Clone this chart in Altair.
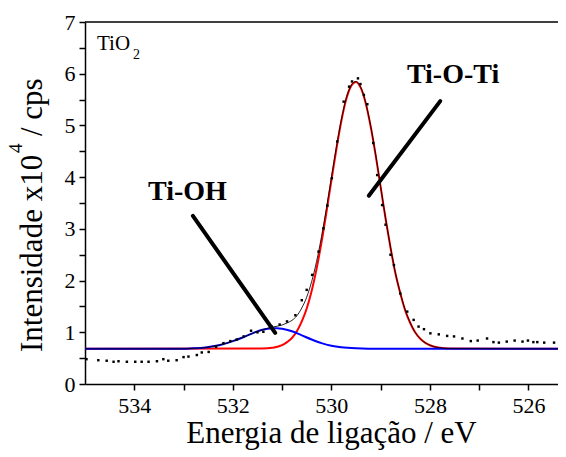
import altair as alt
import pandas as pd

# ---------------- data ----------------
# measured spectrum (dots)
DATA_X = [534.97, 534.73, 534.56, 534.42, 534.32, 534.15, 533.98, 533.85, 533.71, 533.54,
          533.41, 533.31, 533.14, 533.00, 532.90, 532.73, 532.63, 532.49, 532.34, 532.19,
          532.05, 531.92, 531.78, 531.63, 531.50, 531.38, 531.21, 531.05, 530.90, 530.73,
          530.60, 530.50, 530.39, 530.26, 530.16, 530.08, 529.99, 529.88, 529.75, 529.64,
          529.58, 529.46, 529.41, 529.34, 529.27, 529.15, 529.07, 528.97, 528.90, 528.80,
          528.73, 528.60, 528.46, 528.33, 528.23, 528.12, 527.99, 527.82, 527.65, 527.51,
          527.34, 527.17, 527.03, 526.84, 526.71, 526.60, 526.44, 526.28, 526.12, 526.01,
          525.90, 525.82, 525.68, 525.48]
DATA_Y = [0.48, 0.46, 0.45, 0.43, 0.44, 0.43, 0.43, 0.43, 0.43, 0.44,
          0.48, 0.45, 0.46, 0.52, 0.53, 0.56, 0.61, 0.62, 0.72, 0.79,
          0.83, 0.86, 0.92, 1.03, 1.00, 1.01, 1.11, 1.15, 1.21, 1.33,
          1.62, 1.82, 2.11, 2.56, 3.01, 3.45, 3.98, 4.69, 5.46, 5.75,
          5.85, 5.91, 5.80, 5.59, 5.41, 4.66, 4.04, 3.46, 3.08, 2.50,
          2.30, 1.75, 1.40, 1.24, 1.11, 1.06, 0.98, 0.96, 0.93, 0.92,
          0.88, 0.83, 0.84, 0.88, 0.81, 0.80, 0.82, 0.84, 0.82, 0.84,
          0.81, 0.81, 0.80, 0.80]

# Ti-O-Ti component (red)
RED_X = [535.0, 531.4, 531.2, 531.0, 530.9, 530.8, 530.7, 530.6, 530.5, 530.4,
         530.3, 530.2, 530.1, 530.0, 529.9, 529.8, 529.7, 529.6, 529.5, 529.4,
         529.3, 529.2, 529.1, 529.0, 528.9, 528.8, 528.7, 528.6, 528.5, 528.4,
         528.3, 528.2, 528.1, 528.0, 527.8, 527.6, 525.4]
RED_Y = [0.68, 0.685, 0.70, 0.75, 0.81, 0.89, 1.02, 1.21, 1.46, 1.80,
         2.23, 2.74, 3.32, 3.93, 4.53, 5.07, 5.50, 5.76, 5.84, 5.72,
         5.42, 4.97, 4.42, 3.81, 3.20, 2.64, 2.14, 1.75, 1.42, 1.18,
         1.00, 0.88, 0.80, 0.75, 0.70, 0.685, 0.68]

# Ti-OH component (blue)
BLUE_X = [535.0, 533.0, 532.8, 532.6, 532.4, 532.2, 532.0, 531.8, 531.6, 531.4,
          531.2, 531.1, 531.0, 530.8, 530.6, 530.4, 530.2, 530.0, 529.8, 529.5,
          529.0, 525.4]
BLUE_Y = [0.68, 0.68, 0.69, 0.70, 0.73, 0.77, 0.83, 0.90, 0.98, 1.05,
          1.08, 1.08, 1.07, 1.02, 0.94, 0.86, 0.79, 0.74, 0.71, 0.69,
          0.68, 0.68]

# envelope (black)
ENV_X = [535.0, 533.0, 532.8, 532.6, 532.4, 532.2, 532.0, 531.8, 531.6, 531.4,
         531.2, 531.0, 530.9, 530.8, 530.7, 530.6, 530.5, 530.4, 530.3, 530.2,
         530.1, 530.0, 529.9, 529.8, 529.7, 529.6, 529.5, 529.4, 529.3, 529.2,
         529.1, 529.0, 528.9, 528.8, 528.7, 528.6, 528.5, 528.4, 528.3, 528.2,
         528.1, 528.0, 527.8, 527.6, 525.4]
ENV_Y = [0.68, 0.68, 0.69, 0.70, 0.73, 0.77, 0.83, 0.90, 0.98, 1.05,
         1.10, 1.14, 1.18, 1.23, 1.32, 1.47, 1.68, 1.98, 2.37, 2.85,
         3.40, 3.99, 4.57, 5.10, 5.52, 5.77, 5.85, 5.73, 5.43, 4.98,
         4.43, 3.82, 3.21, 2.65, 2.15, 1.76, 1.43, 1.19, 1.00, 0.88,
         0.80, 0.75, 0.70, 0.685, 0.68]

X_TICKS = [526, 527, 528, 529, 530, 531, 532, 533, 534]
Y_TICKS = [0, 0.5, 1, 1.5, 2, 2.5, 3, 3.5, 4, 4.5, 5, 5.5, 6, 6.5, 7]
X_DOMAIN = [525.4, 535]
Y_DOMAIN = [0, 7]

X_TITLE = "Energia de ligação / eV"
Y_TITLE_MAIN = "Intensidade x10"
Y_TITLE_SUP = "4"
Y_TITLE_TAIL = "/ cps"
SAMPLE_MAIN = "TiO"
SAMPLE_SUB = "2"

PEAK_LABELS = ["Ti-OH", "Ti-O-Ti"]
PEAK_LABEL_X = [532.92, 527.53]
PEAK_LABEL_Y = [3.56, 5.82]
POINTER_X = [532.81, 527.79]
POINTER_Y = [3.25, 5.47]
POINTER_X2 = [531.14, 529.24]
POINTER_Y2 = [0.99, 3.64]

FONT = "Liberation Serif"

# ---------------- chart ----------------
W, H = 473, 362

xscale = alt.Scale(domain=X_DOMAIN, reverse=True, nice=False, zero=False)
yscale = alt.Scale(domain=Y_DOMAIN, nice=False, zero=True)

xaxis = alt.Axis(
    values=X_TICKS,
    labelExpr="datum.value % 2 == 0 ? format(datum.value, 'd') : ''",
    title=X_TITLE, titleFontSize=31, titleFont=FONT, titleFontWeight="normal",
    titleColor="black", titleBaseline="alphabetic", titleY=58, titleX=246,
    labelFont=FONT, labelFontSize=22, labelColor="black", labelPadding=5,
    tickSize=6, tickWidth=1.5, tickColor="black",
    domainColor="black", domainWidth=1.5, grid=False, labelFlush=False,
    labelOverlap=False,
)
yaxis = alt.Axis(
    values=Y_TICKS,
    labelExpr="datum.value % 1 == 0 ? format(datum.value, 'd') : ''",
    title=None,
    labelFont=FONT, labelFontSize=22, labelColor="black", labelPadding=4,
    tickSize=6, tickWidth=1.5, tickColor="black",
    domainColor="black", domainWidth=1.5, grid=False, labelFlush=False,
    labelOverlap=False,
)

X = alt.X("x:Q", scale=xscale, axis=xaxis)
Y = alt.Y("y:Q", scale=yscale, axis=yaxis)

red = alt.Chart(pd.DataFrame({"x": RED_X, "y": RED_Y})).mark_line(
    color="#ff0000", strokeWidth=2, interpolate="monotone").encode(x=X, y=Y)
blue = alt.Chart(pd.DataFrame({"x": BLUE_X, "y": BLUE_Y})).mark_line(
    color="#0000ff", strokeWidth=2, interpolate="monotone").encode(x=X, y=Y)
env = alt.Chart(pd.DataFrame({"x": ENV_X, "y": ENV_Y})).mark_line(
    color="black", strokeWidth=1, opacity=0.85, interpolate="monotone").encode(x=X, y=Y)
dots = alt.Chart(pd.DataFrame({"x": DATA_X, "y": DATA_Y})).mark_square(
    color="black", size=6, opacity=1).encode(x=X, y=Y)

pointers = alt.Chart(pd.DataFrame({
    "x": POINTER_X, "y": POINTER_Y, "x2": POINTER_X2, "y2": POINTER_Y2})).mark_rule(
    color="black", strokeWidth=4, strokeCap="round").encode(
    x=X, y=Y, x2="x2:Q", y2="y2:Q")

labels = alt.Chart(pd.DataFrame({
    "x": PEAK_LABEL_X, "y": PEAK_LABEL_Y, "t": PEAK_LABELS})).mark_text(
    font=FONT, fontSize=28, fontWeight="bold", color="black",
    align="center", baseline="alphabetic").encode(x=X, y=Y, text="t:N")

one = pd.DataFrame({"k": [0]})
sample_main = alt.Chart(one).mark_text(
    text=SAMPLE_MAIN, font=FONT, fontSize=21, color="black",
    align="left", baseline="alphabetic").encode(x=alt.value(12), y=alt.value(28))
sample_sub = alt.Chart(one).mark_text(
    text=SAMPLE_SUB, font=FONT, fontSize=14, color="black",
    align="left", baseline="alphabetic").encode(x=alt.value(48), y=alt.value(37))

yt_main = alt.Chart(one).mark_text(
    text=Y_TITLE_MAIN, font=FONT, fontSize=31, color="black", angle=270,
    align="left", baseline="alphabetic").encode(x=alt.value(-43), y=alt.value(330))
yt_sup = alt.Chart(one).mark_text(
    text=Y_TITLE_SUP, font=FONT, fontSize=19, color="black", angle=270,
    align="left", baseline="alphabetic").encode(x=alt.value(-63), y=alt.value(131))
yt_tail = alt.Chart(one).mark_text(
    text=Y_TITLE_TAIL, font=FONT, fontSize=31, color="black", angle=270,
    align="left", baseline="alphabetic").encode(x=alt.value(-43), y=alt.value(114))

top_border = alt.Chart(one).mark_rule(color="black", strokeWidth=1.5).encode(
    x=alt.value(0), x2=alt.value(W), y=alt.value(0))

chart = alt.layer(
    red, blue, env, dots, pointers, labels,
    sample_main, sample_sub, yt_main, yt_sup, yt_tail, top_border,
).properties(
    width=W, height=H,
    autosize=alt.AutoSizeParams(type="none"),
    padding={"left": 77, "top": 14, "right": 0, "bottom": 66},
    background="white",
).configure_view(stroke=None)

chart.save("out.html", embed_options={"renderer": "svg", "actions": False})
